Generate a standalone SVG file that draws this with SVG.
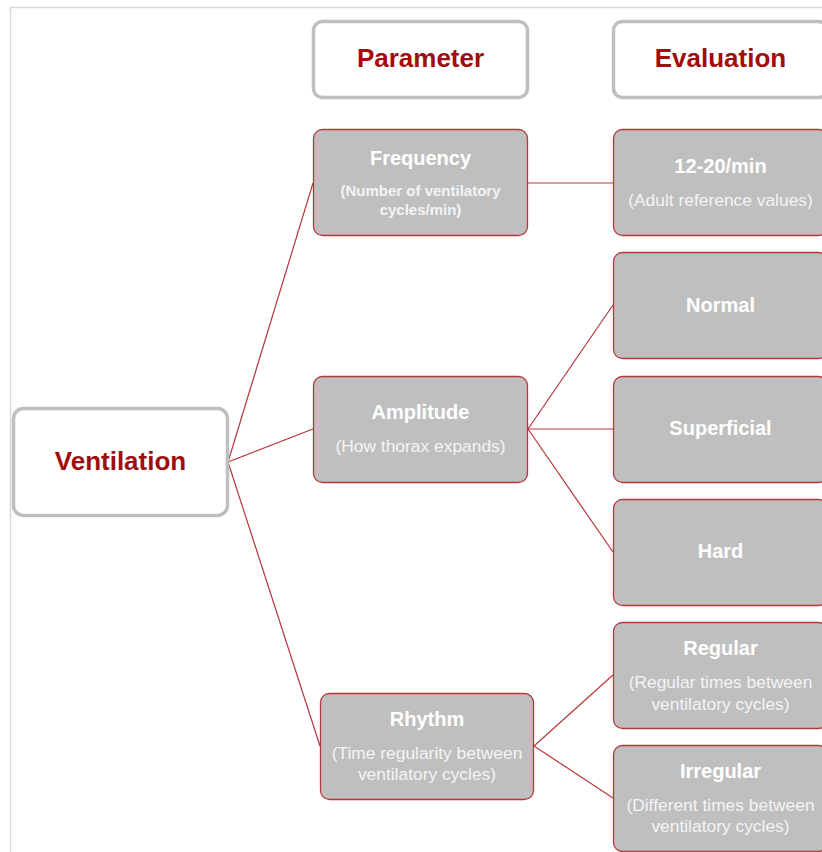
<svg xmlns="http://www.w3.org/2000/svg" width="822" height="852" viewBox="0 0 822 852">
<style>
.hdr{fill:#ffffff;stroke:#bfbfbf;stroke-width:3.5}
.box{fill:#bfbfbf;stroke:#b8373a;stroke-width:1.3}
.ht{font-family:"Liberation Sans",Arial,sans-serif;font-weight:bold;font-size:26px;fill:#a00d0d;text-anchor:middle}
.t{font-family:"Liberation Sans",Arial,sans-serif;font-weight:bold;font-size:20px;fill:#ffffff;text-anchor:middle}
.s{font-family:"Liberation Sans",Arial,sans-serif;font-size:17.4px;fill:#f4f4f4;text-anchor:middle}
.sb{font-family:"Liberation Sans",Arial,sans-serif;font-weight:bold;font-size:15px;fill:#f4f4f4;text-anchor:middle}
.c{stroke:#b8373a;stroke-width:1.2;fill:none}
</style>
<rect width="822" height="852" fill="#ffffff"/>
<path d="M10.5 852 V7.5 H822" fill="none" stroke="#d9d9d9" stroke-width="1.5"/>
<g id="connectors">
<line class="c" x1="228" y1="462" x2="313" y2="183"/>
<line class="c" x1="228" y1="462" x2="313" y2="429"/>
<line class="c" x1="228" y1="462" x2="320" y2="746"/>
<line class="c" x1="528" y1="183" x2="613" y2="183"/>
<line class="c" x1="528" y1="429" x2="613" y2="305"/>
<line class="c" x1="528" y1="429" x2="613" y2="429"/>
<line class="c" x1="528" y1="429" x2="613" y2="552"/>
<line class="c" x1="534" y1="746" x2="613" y2="675"/>
<line class="c" x1="534" y1="746" x2="613" y2="798"/>
</g>
<g id="parameter-header">
<rect class="hdr" x="313.5" y="21.5" width="214" height="76" rx="9"/>
<text class="ht" x="420.5" y="67">Parameter</text>
</g>
<g id="evaluation-header">
<rect class="hdr" x="613.5" y="21.5" width="214" height="76" rx="9"/>
<text class="ht" x="720.5" y="67">Evaluation</text>
</g>
<g id="ventilation">
<rect class="hdr" x="13.5" y="408.5" width="214" height="107" rx="10"/>
<text class="ht" x="120.5" y="470">Ventilation</text>
</g>
<g id="frequency">
<rect class="box" x="313.5" y="129.5" width="214" height="106" rx="9"/>
<text class="t" x="420.5" y="165">Frequency</text>
<text class="sb" x="420.5" y="196">(Number of ventilatory</text>
<text class="sb" x="420.5" y="215">cycles/min)</text>
</g>
<g id="rate">
<rect class="box" x="613.5" y="129.5" width="214" height="106" rx="9"/>
<text class="t" x="720.5" y="173">12-20/min</text>
<text class="s" x="720.5" y="206">(Adult reference values)</text>
</g>
<g id="amplitude">
<rect class="box" x="313.5" y="376.5" width="214" height="106" rx="9"/>
<text class="t" x="420.5" y="419">Amplitude</text>
<text class="s" x="420.5" y="452">(How thorax expands)</text>
</g>
<g id="normal">
<rect class="box" x="613.5" y="252.5" width="214" height="106" rx="9"/>
<text class="t" x="720.5" y="312">Normal</text>
</g>
<g id="superficial">
<rect class="box" x="613.5" y="376.5" width="214" height="106" rx="9"/>
<text class="t" x="720.5" y="435">Superficial</text>
</g>
<g id="hard">
<rect class="box" x="613.5" y="499.5" width="214" height="106" rx="9"/>
<text class="t" x="720.5" y="558">Hard</text>
</g>
<g id="rhythm">
<rect class="box" x="320.5" y="693.5" width="213" height="106" rx="9"/>
<text class="t" x="427" y="726">Rhythm</text>
<text class="s" x="427" y="759">(Time regularity between</text>
<text class="s" x="427" y="780">ventilatory cycles)</text>
</g>
<g id="regular">
<rect class="box" x="613.5" y="622.5" width="214" height="106" rx="9"/>
<text class="t" x="720.5" y="655">Regular</text>
<text class="s" x="720.5" y="688">(Regular times between</text>
<text class="s" x="720.5" y="710">ventilatory cycles)</text>
</g>
<g id="irregular">
<rect class="box" x="613.5" y="745.5" width="214" height="106" rx="9"/>
<text class="t" x="720.5" y="778">Irregular</text>
<text class="s" x="720.5" y="811">(Different times between</text>
<text class="s" x="720.5" y="832">ventilatory cycles)</text>
</g>
</svg>
